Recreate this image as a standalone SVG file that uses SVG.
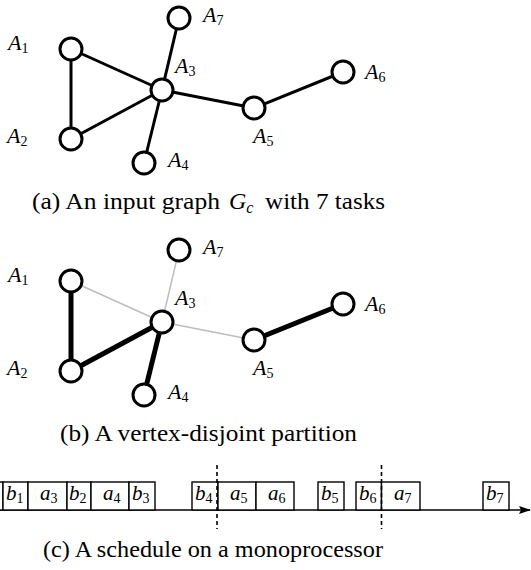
<svg xmlns="http://www.w3.org/2000/svg" width="531" height="570" viewBox="0 0 531 570">
<defs>
<style>
.node{fill:#fff;stroke:#000;stroke-width:3}
.e{stroke:#000;stroke-width:3;fill:none}
.thick{stroke:#000;stroke-width:5;fill:none}
.thin{stroke:#bdbdbd;stroke-width:1.5;fill:none}
.lbl{font-family:"Liberation Serif",serif;font-size:22px;fill:#000}
.blbl{font-family:"Liberation Serif",serif;font-size:21px;fill:#000}
.it{font-style:italic}
.sub{font-size:14px}
.cap{font-family:"Liberation Serif",serif;font-size:24px;fill:#000}
.box{fill:#fff;stroke:#000;stroke-width:1.4}
.axis{stroke:#000;stroke-width:1.4;fill:none}
.dash{stroke:#000;stroke-width:1.6;stroke-dasharray:4,3;fill:none}
</style>
<marker id="arr" markerWidth="12" markerHeight="8" refX="11" refY="4" orient="auto" markerUnits="userSpaceOnUse">
<path d="M0,0 L12,4 L0,8 L2,4 Z" fill="#000"/>
</marker>
</defs>

<!-- (a) -->
<g id="edges-a">
<line class="e" x1="71" y1="49" x2="71" y2="139"/>
<line class="e" x1="71" y1="49" x2="162" y2="90"/>
<line class="e" x1="71" y1="139" x2="162" y2="90"/>
<line class="e" x1="162" y1="90" x2="179" y2="18"/>
<line class="e" x1="162" y1="90" x2="144" y2="163"/>
<line class="e" x1="162" y1="90" x2="254" y2="108"/>
<line class="e" x1="254" y1="108" x2="343" y2="72"/>
</g>
<g id="a-A1"><circle class="node" cx="71" cy="49" r="11"/><text class="lbl" x="8" y="50"><tspan class="it">A</tspan><tspan class="sub" dy="3">1</tspan></text></g>
<g id="a-A2"><circle class="node" cx="71" cy="139" r="11"/><text class="lbl" x="7" y="143"><tspan class="it">A</tspan><tspan class="sub" dy="3">2</tspan></text></g>
<g id="a-A3"><circle class="node" cx="162" cy="90" r="11"/><text class="lbl" x="175" y="73"><tspan class="it">A</tspan><tspan class="sub" dy="3">3</tspan></text></g>
<g id="a-A4"><circle class="node" cx="144" cy="163" r="11"/><text class="lbl" x="168" y="167"><tspan class="it">A</tspan><tspan class="sub" dy="3">4</tspan></text></g>
<g id="a-A5"><circle class="node" cx="254" cy="108" r="11"/><text class="lbl" x="253" y="143"><tspan class="it">A</tspan><tspan class="sub" dy="3">5</tspan></text></g>
<g id="a-A6"><circle class="node" cx="343" cy="72" r="11"/><text class="lbl" x="365" y="79"><tspan class="it">A</tspan><tspan class="sub" dy="3">6</tspan></text></g>
<g id="a-A7"><circle class="node" cx="179" cy="18" r="11"/><text class="lbl" x="203" y="22"><tspan class="it">A</tspan><tspan class="sub" dy="3">7</tspan></text></g>
<g id="caption-a">
<text class="cap" x="32" y="209" textLength="188" lengthAdjust="spacingAndGlyphs">(a) An input graph</text>
<text class="cap" x="229" y="209"><tspan class="it">G</tspan><tspan class="it" font-size="16" dy="4">c</tspan></text>
<text class="cap" x="265" y="209" textLength="120" lengthAdjust="spacingAndGlyphs">with 7 tasks</text>
</g>

<!-- (b) -->
<g id="edges-b">
<line class="thin" x1="71" y1="281" x2="162" y2="322"/>
<line class="thin" x1="162" y1="322" x2="179" y2="250"/>
<line class="thin" x1="162" y1="322" x2="254" y2="340"/>
<line class="thick" x1="71" y1="281" x2="71" y2="371"/>
<line class="thick" x1="71" y1="371" x2="162" y2="322"/>
<line class="thick" x1="162" y1="322" x2="144" y2="395"/>
<line class="thick" x1="254" y1="340" x2="343" y2="304"/>
</g>
<g id="b-A1"><circle class="node" cx="71" cy="281" r="11"/><text class="lbl" x="8" y="282"><tspan class="it">A</tspan><tspan class="sub" dy="3">1</tspan></text></g>
<g id="b-A2"><circle class="node" cx="71" cy="371" r="11"/><text class="lbl" x="7" y="375"><tspan class="it">A</tspan><tspan class="sub" dy="3">2</tspan></text></g>
<g id="b-A3"><circle class="node" cx="162" cy="322" r="11"/><text class="lbl" x="175" y="305"><tspan class="it">A</tspan><tspan class="sub" dy="3">3</tspan></text></g>
<g id="b-A4"><circle class="node" cx="144" cy="395" r="11"/><text class="lbl" x="168" y="399"><tspan class="it">A</tspan><tspan class="sub" dy="3">4</tspan></text></g>
<g id="b-A5"><circle class="node" cx="254" cy="340" r="11"/><text class="lbl" x="253" y="375"><tspan class="it">A</tspan><tspan class="sub" dy="3">5</tspan></text></g>
<g id="b-A6"><circle class="node" cx="343" cy="304" r="11"/><text class="lbl" x="365" y="311"><tspan class="it">A</tspan><tspan class="sub" dy="3">6</tspan></text></g>
<g id="b-A7"><circle class="node" cx="179" cy="250" r="11"/><text class="lbl" x="203" y="254"><tspan class="it">A</tspan><tspan class="sub" dy="3">7</tspan></text></g>
<text class="cap" x="60" y="441" textLength="297" lengthAdjust="spacingAndGlyphs">(b) A vertex-disjoint partition</text>

<!-- (c) -->
<g id="timeline">
<line class="axis" x1="0" y1="510" x2="530" y2="510" marker-end="url(#arr)"/>
</g>
<g id="boxes">
<rect class="box" x="-30" y="482" width="33" height="28"/>
<g id="t-b1"><rect class="box" x="3" y="482" width="25" height="28"/><text class="blbl" x="6" y="500"><tspan class="it">b</tspan><tspan class="sub" dy="3">1</tspan></text></g>
<g id="t-a3"><rect class="box" x="28" y="482" width="39" height="28"/><text class="blbl" x="40" y="500"><tspan class="it">a</tspan><tspan class="sub" dy="3">3</tspan></text></g>
<g id="t-b2"><rect class="box" x="67" y="482" width="24" height="28"/><text class="blbl" x="69" y="500"><tspan class="it">b</tspan><tspan class="sub" dy="3">2</tspan></text></g>
<g id="t-a4"><rect class="box" x="91" y="482" width="38" height="28"/><text class="blbl" x="103" y="500"><tspan class="it">a</tspan><tspan class="sub" dy="3">4</tspan></text></g>
<g id="t-b3"><rect class="box" x="129" y="482" width="26" height="28"/><text class="blbl" x="132" y="500"><tspan class="it">b</tspan><tspan class="sub" dy="3">3</tspan></text></g>
<g id="t-b4"><rect class="box" x="192" y="482" width="26" height="28"/><text class="blbl" x="195" y="500"><tspan class="it">b</tspan><tspan class="sub" dy="3">4</tspan></text></g>
<g id="t-a5"><rect class="box" x="218" y="482" width="38" height="28"/><text class="blbl" x="230" y="500"><tspan class="it">a</tspan><tspan class="sub" dy="3">5</tspan></text></g>
<g id="t-a6"><rect class="box" x="256" y="482" width="38" height="28"/><text class="blbl" x="268" y="500"><tspan class="it">a</tspan><tspan class="sub" dy="3">6</tspan></text></g>
<g id="t-b5"><rect class="box" x="318" y="482" width="26" height="28"/><text class="blbl" x="321" y="500"><tspan class="it">b</tspan><tspan class="sub" dy="3">5</tspan></text></g>
<g id="t-b6"><rect class="box" x="356" y="482" width="25.5" height="28"/><text class="blbl" x="359" y="500"><tspan class="it">b</tspan><tspan class="sub" dy="3">6</tspan></text></g>
<g id="t-a7"><rect class="box" x="381.5" y="482" width="38.5" height="28"/><text class="blbl" x="394" y="500"><tspan class="it">a</tspan><tspan class="sub" dy="3">7</tspan></text></g>
<g id="t-b7"><rect class="box" x="483" y="482" width="26" height="28"/><text class="blbl" x="486" y="500"><tspan class="it">b</tspan><tspan class="sub" dy="3">7</tspan></text></g>
</g>
<g id="dashes">
<line class="dash" x1="217" y1="465" x2="217" y2="529"/>
<line class="dash" x1="381.5" y1="465" x2="381.5" y2="529"/>
</g>
<text class="cap" x="43" y="557" textLength="340" lengthAdjust="spacingAndGlyphs">(c) A schedule on a monoprocessor</text>
</svg>
